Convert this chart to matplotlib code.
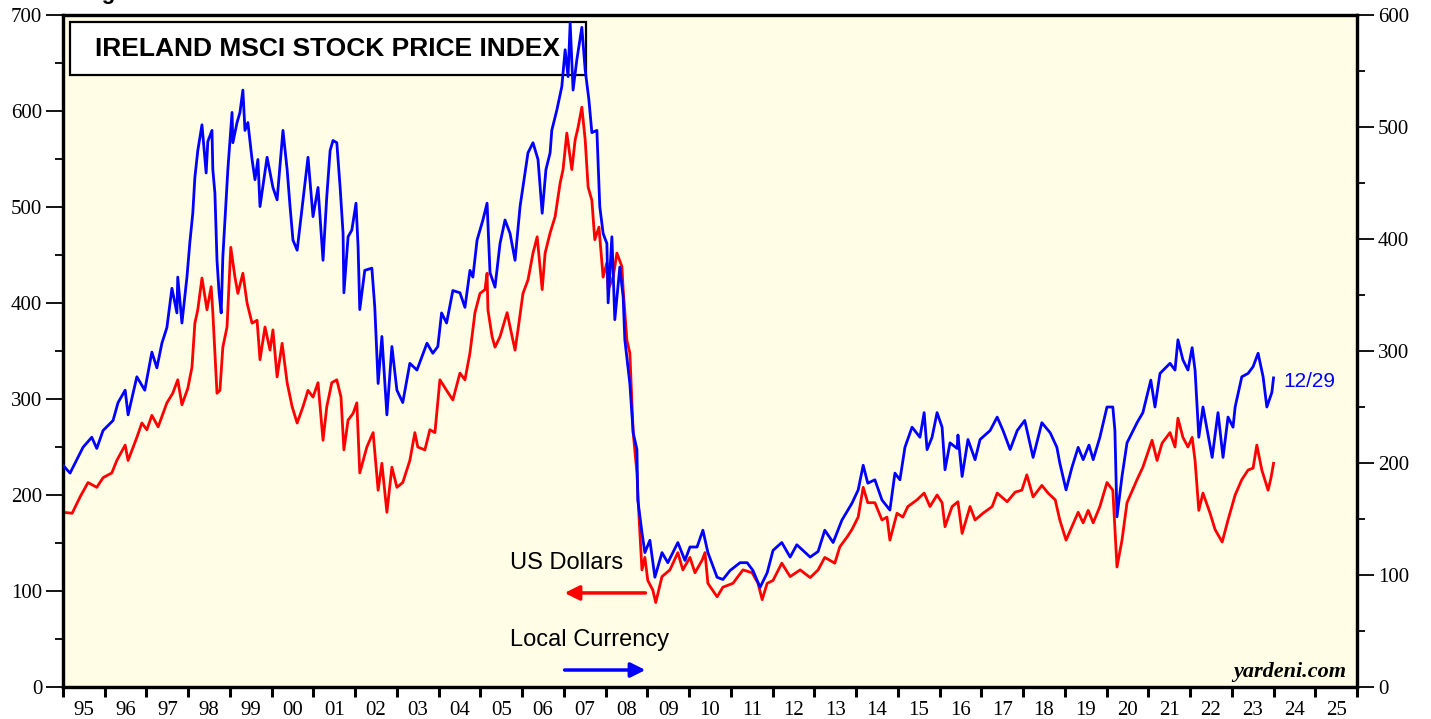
import matplotlib
matplotlib.use("Agg")
import matplotlib.pyplot as plt
from matplotlib.ticker import MultipleLocator, FixedLocator
from matplotlib.patches import Rectangle

# Local currency (right axis), decimal year / index value
local_years = [1995.00, 1995.17, 1995.48, 1995.69, 1995.81, 1995.96, 1996.20, 1996.32, 1996.49, 1996.56,
               1996.77, 1996.96, 1997.13, 1997.25, 1997.37, 1997.49, 1997.61, 1997.73, 1997.75, 1997.85,
               1997.97, 1998.04, 1998.11, 1998.16, 1998.23, 1998.33, 1998.43, 1998.47, 1998.57, 1998.59,
               1998.64, 1998.69, 1998.74, 1998.79, 1998.83, 1998.88, 1998.95, 1999.05, 1999.07, 1999.17,
               1999.24, 1999.31, 1999.36, 1999.43, 1999.53, 1999.60, 1999.67, 1999.72, 1999.89, 2000.03,
               2000.13, 2000.27, 2000.37, 2000.44, 2000.51, 2000.61, 2000.75, 2000.87, 2000.99, 2001.11,
               2001.23, 2001.32, 2001.40, 2001.47, 2001.56, 2001.64, 2001.71, 2001.73, 2001.83, 2001.92,
               2002.02, 2002.07, 2002.11, 2002.23, 2002.40, 2002.47, 2002.55, 2002.64, 2002.76, 2002.88,
               2003.00, 2003.14, 2003.31, 2003.48, 2003.72, 2003.86, 2003.98, 2004.07, 2004.19, 2004.34,
               2004.51, 2004.63, 2004.75, 2004.82, 2004.92, 2005.06, 2005.16, 2005.23, 2005.35, 2005.47,
               2005.59, 2005.71, 2005.83, 2005.95, 2006.14, 2006.26, 2006.38, 2006.48, 2006.57, 2006.67,
               2006.71, 2006.83, 2006.95, 2007.03, 2007.10, 2007.15, 2007.22, 2007.31, 2007.43, 2007.51,
               2007.60, 2007.67, 2007.79, 2007.86, 2007.94, 2008.03, 2008.06, 2008.15, 2008.22, 2008.34,
               2008.42, 2008.46, 2008.58, 2008.66, 2008.75, 2008.77, 2008.87, 2008.94, 2009.06, 2009.18,
               2009.35, 2009.49, 2009.73, 2009.90, 2010.02, 2010.19, 2010.33, 2010.45, 2010.67, 2010.81,
               2010.98, 2011.22, 2011.39, 2011.53, 2011.70, 2011.87, 2012.01, 2012.22, 2012.42, 2012.58,
               2012.90, 2013.09, 2013.25, 2013.45, 2013.66, 2013.90, 2014.05, 2014.17, 2014.28, 2014.45,
               2014.62, 2014.81, 2014.93, 2015.05, 2015.17, 2015.34, 2015.53, 2015.63, 2015.70, 2015.82,
               2015.94, 2016.06, 2016.13, 2016.25, 2016.42, 2016.44, 2016.54, 2016.68, 2016.85, 2016.97,
               2017.21, 2017.38, 2017.52, 2017.69, 2017.86, 2018.04, 2018.24, 2018.45, 2018.65, 2018.81,
               2018.88, 2019.03, 2019.17, 2019.32, 2019.44, 2019.58, 2019.68, 2019.84, 2020.01, 2020.15,
               2020.20, 2020.25, 2020.37, 2020.49, 2020.73, 2020.87, 2021.06, 2021.16, 2021.28, 2021.52,
               2021.64, 2021.71, 2021.83, 2021.95, 2022.05, 2022.12, 2022.21, 2022.31, 2022.53, 2022.67,
               2022.79, 2022.91, 2023.03, 2023.08, 2023.24, 2023.39, 2023.51, 2023.63, 2023.75, 2023.84,
               2023.96, 2024.00]
local_vals = [198, 191, 214, 223, 213, 229, 238, 254, 265, 243,
              277, 265, 299, 285, 307, 321, 356, 334, 366, 325,
              366, 397, 423, 455, 479, 502, 459, 487, 497, 462,
              441, 381, 352, 334, 384, 417, 462, 513, 486, 504,
              513, 533, 497, 504, 471, 453, 471, 429, 473, 446,
              435, 497, 462, 429, 399, 390, 435, 473, 420, 446,
              381, 438, 479, 488, 486, 446, 405, 352, 402, 408,
              432, 393, 337, 372, 374, 339, 271, 313, 243, 304,
              265, 254, 289, 283, 307, 298, 304, 334, 325, 354,
              352, 339, 372, 366, 399, 417, 432, 370, 357, 396,
              417, 405, 381, 429, 477, 486, 471, 423, 462, 477,
              497, 515, 536, 569, 545, 593, 533, 560, 589, 551,
              524, 495, 497, 429, 405, 396, 343, 402, 328, 375,
              348, 310, 271, 227, 212, 167, 138, 120, 131, 98,
              120, 111, 129, 113, 125, 125, 140, 120, 98, 96,
              104, 111, 111, 104, 89, 102, 122, 129, 116, 127,
              116, 121, 140, 129, 149, 164, 176, 198, 182, 185,
              167, 158, 191, 185, 214, 232, 223, 245, 212, 223,
              245, 232, 194, 218, 213, 225, 188, 221, 203, 221,
              229, 241, 229, 212, 229, 238, 205, 236, 227, 214,
              200, 176, 196, 214, 203, 216, 203, 223, 250, 250,
              229, 152, 188, 218, 236, 245, 274, 250, 280, 289,
              283, 310, 292, 283, 303, 283, 223, 250, 205, 245,
              205, 241, 232, 250, 277, 280, 286, 298, 277, 250,
              263, 276]

# US dollars (left axis)
usd_years = [1995.00, 1995.22, 1995.41, 1995.60, 1995.81, 1995.96, 1996.17, 1996.29, 1996.49, 1996.56,
             1996.77, 1996.89, 1997.01, 1997.13, 1997.28, 1997.49, 1997.63, 1997.75, 1997.85, 1997.99,
             1998.09, 1998.16, 1998.23, 1998.33, 1998.45, 1998.55, 1998.59, 1998.69, 1998.76, 1998.83,
             1998.93, 1999.02, 1999.12, 1999.19, 1999.31, 1999.41, 1999.53, 1999.65, 1999.72, 1999.84,
             1999.96, 2000.03, 2000.13, 2000.25, 2000.37, 2000.49, 2000.61, 2000.75, 2000.87, 2000.99,
             2001.11, 2001.23, 2001.32, 2001.44, 2001.56, 2001.66, 2001.73, 2001.83, 2001.95, 2002.04,
             2002.11, 2002.28, 2002.43, 2002.55, 2002.64, 2002.76, 2002.88, 2003.00, 2003.14, 2003.31,
             2003.43, 2003.50, 2003.67, 2003.79, 2003.91, 2004.03, 2004.19, 2004.34, 2004.51, 2004.63,
             2004.75, 2004.87, 2004.99, 2005.11, 2005.16, 2005.18, 2005.28, 2005.35, 2005.47, 2005.64,
             2005.76, 2005.83, 2005.90, 2006.02, 2006.14, 2006.26, 2006.36, 2006.48, 2006.55, 2006.67,
             2006.79, 2006.91, 2006.98, 2007.07, 2007.19, 2007.27, 2007.34, 2007.43, 2007.51, 2007.58,
             2007.67, 2007.74, 2007.84, 2007.94, 2008.03, 2008.06, 2008.18, 2008.27, 2008.39, 2008.42,
             2008.51, 2008.58, 2008.66, 2008.75, 2008.80, 2008.87, 2008.94, 2009.01, 2009.13, 2009.20,
             2009.35, 2009.54, 2009.73, 2009.85, 2010.02, 2010.14, 2010.31, 2010.38, 2010.45, 2010.67,
             2010.81, 2011.05, 2011.29, 2011.51, 2011.65, 2011.75, 2011.87, 2012.01, 2012.22, 2012.42,
             2012.66, 2012.90, 2013.09, 2013.25, 2013.49, 2013.61, 2013.78, 2013.90, 2014.05, 2014.17,
             2014.28, 2014.45, 2014.62, 2014.74, 2014.81, 2014.98, 2015.12, 2015.24, 2015.46, 2015.63,
             2015.77, 2015.94, 2016.06, 2016.13, 2016.30, 2016.44, 2016.54, 2016.73, 2016.85, 2017.04,
             2017.26, 2017.38, 2017.62, 2017.81, 2017.97, 2018.09, 2018.24, 2018.45, 2018.60, 2018.77,
             2018.88, 2019.03, 2019.17, 2019.32, 2019.44, 2019.56, 2019.68, 2019.84, 2020.01, 2020.15,
             2020.25, 2020.37, 2020.49, 2020.73, 2020.87, 2021.09, 2021.21, 2021.33, 2021.52, 2021.64,
             2021.71, 2021.83, 2021.95, 2022.05, 2022.12, 2022.21, 2022.31, 2022.48, 2022.60, 2022.77,
             2022.91, 2023.08, 2023.24, 2023.39, 2023.51, 2023.60, 2023.72, 2023.87, 2023.94, 2024.00]
usd_vals = [182, 181, 198, 213, 208, 218, 223, 236, 252, 236,
            260, 275, 268, 283, 271, 296, 306, 320, 294, 311,
            333, 379, 393, 426, 393, 417, 390, 306, 309, 354,
            375, 458, 427, 410, 431, 400, 379, 382, 341, 375,
            351, 372, 323, 358, 317, 292, 275, 292, 309, 302,
            317, 257, 292, 317, 320, 302, 247, 278, 285, 296,
            223, 250, 265, 205, 233, 182, 229, 208, 213, 236,
            265, 250, 247, 268, 265, 320, 309, 299, 327, 320,
            348, 390, 410, 414, 431, 393, 365, 354, 365, 390,
            365, 351, 372, 410, 424, 452, 469, 414, 452, 473,
            490, 525, 539, 577, 539, 570, 583, 604, 570, 521,
            507, 466, 479, 427, 442, 414, 427, 452, 438, 414,
            361, 348, 265, 223, 177, 122, 135, 111, 101, 88,
            115, 122, 140, 122, 135, 119, 132, 140, 108, 94,
            104, 108, 122, 119, 108, 91, 108, 111, 129, 115,
            122, 114, 122, 135, 129, 146, 156, 164, 177, 208,
            192, 192, 174, 177, 153, 181, 177, 188, 195, 202,
            188, 200, 192, 167, 188, 193, 160, 188, 174, 181,
            188, 202, 193, 203, 205, 221, 198, 210, 202, 195,
            174, 153, 167, 182, 171, 184, 171, 188, 213, 205,
            125, 153, 192, 216, 229, 257, 236, 254, 265, 250,
            280, 260, 250, 260, 236, 184, 202, 181, 164, 151,
            174, 200, 216, 226, 228, 252, 226, 205, 218, 233]

year_ticks = list(range(1995, 2027))
year_labels = ["%02d" % (y % 100) for y in range(1995, 2026)]

serif = "Liberation Serif"
sans = "Liberation Sans"

fig = plt.figure(figsize=(14.31, 7.19), dpi=100)
ax = fig.add_axes([0.044, 0.0445, 0.9043, 0.9346])
ax.set_facecolor("#FFFDE5")

ax.plot(usd_years, usd_vals, color="#FF0000", lw=2.0, zorder=3)
ax.set_xlim(1995, 2026)
ax.set_ylim(0, 700)

ax2 = ax.twinx()
ax2.plot(local_years, local_vals, color="#0000FF", lw=2.0, zorder=3)
ax2.set_ylim(0, 600)

# x axis: year boundaries as ticks, labels centred in between
ax.xaxis.set_major_locator(FixedLocator(year_ticks))
ax.xaxis.set_minor_locator(FixedLocator([y + 0.5 for y in range(1995, 2026)]))
ax.set_xticklabels([], minor=False)
ax.set_xticklabels(year_labels, minor=True, fontfamily=serif, fontsize=15)
ax.tick_params(axis="x", which="major", length=7, width=2.2, direction="out")
ax.tick_params(axis="x", which="minor", length=0, pad=10)

ax.yaxis.set_major_locator(MultipleLocator(100))
ax.yaxis.set_minor_locator(MultipleLocator(50))
ax.tick_params(axis="y", which="major", length=12, width=1.3, labelsize=15, pad=3)
ax.tick_params(axis="y", which="minor", length=6, width=1.3)
for lab in ax.get_yticklabels():
    lab.set_fontfamily(serif)

ax2.yaxis.set_major_locator(MultipleLocator(100))
ax2.yaxis.set_minor_locator(MultipleLocator(50))
ax2.tick_params(axis="y", which="major", length=12, width=1.3, labelsize=15, pad=3)
ax2.tick_params(axis="y", which="minor", length=6, width=1.3)
for lab in ax2.get_yticklabels():
    lab.set_fontfamily(serif)

for a in (ax, ax2):
    for s in a.spines.values():
        s.set_linewidth(2.3)

# title box
ax.add_patch(Rectangle((0.0054, 0.911), 0.3988, 0.0786, transform=ax.transAxes,
                       facecolor="white", edgecolor="black", lw=1.6, zorder=1))
ax.text(0.0054 + 0.3988 / 2, 0.95, "IRELAND MSCI STOCK PRICE INDEX", transform=ax.transAxes,
        ha="center", va="center", fontsize=19, fontweight="bold", fontfamily=sans, zorder=2)

# annotations
ax.text(2005.71, 129, "US Dollars", ha="left", va="center", fontsize=17, fontfamily=sans)
ax.text(2005.71, 49, "Local Currency", ha="left", va="center", fontsize=17, fontfamily=sans)
ax.annotate("", xy=(2006.95, 98), xytext=(2009.02, 98),
            arrowprops=dict(arrowstyle="-|>", color="#FF0000", lw=2.5, mutation_scale=22))
ax.annotate("", xy=(2009.02, 17.7), xytext=(2006.95, 17.7),
            arrowprops=dict(arrowstyle="-|>", color="#0000FF", lw=2.5, mutation_scale=22))
ax2.text(2024.23, 273, "12/29", color="#0000FF", ha="left", va="center", fontsize=15, fontfamily=sans)
ax.text(0.992, 0.022, "yardeni.com", transform=ax.transAxes, ha="right", va="center",
        fontsize=16, fontweight="bold", fontstyle="italic", fontfamily=serif)

fig.text(0.057, 1.002, "Figure 1.", ha="left", va="baseline", fontsize=16, fontweight="bold", fontfamily=sans)

fig.savefig("out.png", dpi=100, facecolor="white")
